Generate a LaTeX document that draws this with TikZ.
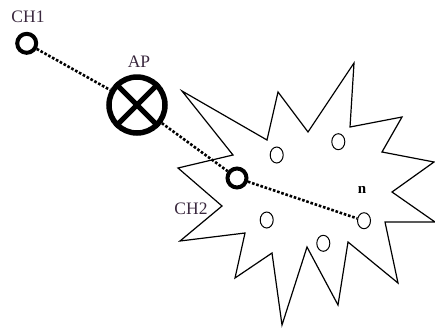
\documentclass[tikz,border=0pt]{standalone}
\usepackage{fontspec}
\setmainfont{Liberation Serif}
\definecolor{labelink}{RGB}{58, 40, 62}
\usetikzlibrary{shapes.geometric, positioning}

\begin{document}
\begin{tikzpicture}[
  x=1pt, y=-1pt,
  headnode/.style={circle, draw, line width=4pt, minimum size=19pt, inner sep=0pt},
  apnode/.style={circle, draw, line width=5.5pt, minimum size=56pt, inner sep=0pt},
  membernode/.style={ellipse, draw, line width=1pt, minimum width=13pt, minimum height=16pt, inner sep=0pt},
  link/.style={line width=2.6pt, dash pattern=on 2.6pt off 1.8pt},
  tag/.style={text=labelink, font=\fontsize{17.5}{20}\selectfont, inner sep=0pt}
]
  \useasboundingbox (0,0) rectangle (435,327);

  % cluster outline
  \draw[line width=1.2pt, line join=miter]
    (182,91) -- (267,140) -- (278,92) -- (308,132) -- (354,63) -- (350,127)
    -- (402,117) -- (382,152) -- (434,162) -- (392,192) -- (435,222)
    -- (385,222) -- (398,283) -- (348,242) -- (338,305) -- (307,247)
    -- (282,325) -- (272,253) -- (235,278) -- (245,233) -- (180,241)
    -- (222,206) -- (178,168) -- (233,155) -- cycle;

  \node[headnode] (ch1) at (26.7, 43.3) {};
  \node[apnode] (ap) at (137, 105) {};
  \draw[line width=5pt] (ap.45) -- (ap.225) (ap.135) -- (ap.315);
  \node[headnode] (ch2) at (237, 178) {};

  \node[membernode] (m1) at (276.7, 155) {};
  \node[membernode] (m2) at (338.3, 141.7) {};
  \node[membernode] (m3) at (266.7, 220) {};
  \node[membernode] (m4) at (323.3, 243.3) {};
  \node[membernode] (mn) at (364, 220.7) {};

  \node[tag] (ch1lbl) at (28, 17) {CH1};
  \node[tag] (aplbl) at (139, 62) {AP};
  \node[tag] (ch2lbl) at (191, 209) {CH2};
  \node[inner sep=0pt, font=\fontsize{15}{17}\selectfont\bfseries] (nlbl) at (362, 190) {n};

  \draw[link] (ch1) -- (ap);
  \draw[link] (ap) -- (ch2);
  \draw[link] (ch2) -- (mn);
\end{tikzpicture}
\end{document}
